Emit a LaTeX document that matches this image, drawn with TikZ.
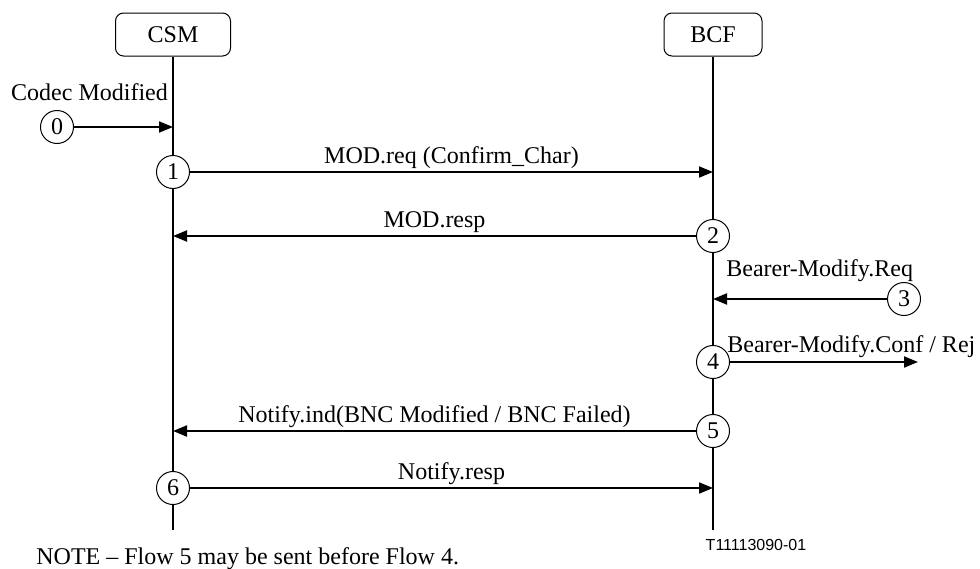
\documentclass[tikz,border=0pt]{standalone}
\usepackage{fontspec}
\setmainfont{Liberation Serif}
\newfontfamily\figfont{Liberation Sans}
\usetikzlibrary{arrows.meta}
\tikzset{
    entity/.style={draw,line width=0.5pt,rounded corners=4pt,minimum width=#1,minimum height=21.5pt,inner sep=0pt},
    flownum/.style={draw,line width=0.5pt,circle,fill=white,minimum size=16.5pt,inner sep=0pt},
    msg/.style={->,line width=1pt},
    msglabel/.style={midway,anchor=base,inner sep=0pt,yshift=4.5pt},
}
\newcommand\Flow[3]{% name, position, number
    \node[flownum] (#1) at (#2) {#3};
}

\begin{document}
\begin{tikzpicture}[x=0.5pt,y=-0.5pt,>={Triangle[length=7pt,width=5.5pt]},font=\fontsize{12}{14}\selectfont]
    \useasboundingbox (0,0) rectangle (980,568);
    % entities and lifelines
    \node[entity=57.5pt] (csm) at (173,34.5) {CSM};
    \node[entity=49pt] (bcf) at (713,34.5) {BCF};
    \coordinate (csmEnd) at (173,530);
    \coordinate (bcfEnd) at (713,530);
    \draw[line width=0.9pt] (csm) -- (csmEnd);
    \draw[line width=0.9pt] (bcf) -- (bcfEnd);
    % flows
    \Flow{f0}{57,127}{0}
    \node[anchor=base] at (89.5,100) {Codec Modified};
    \draw[msg] (f0) -- (f0 -| csm);
    \Flow{f1}{173,172}{1}
    \draw[msg] (f1) -- (f1 -| bcf) node[msglabel] {MOD.req (Confirm\_Char)};
    \Flow{f2}{713,236}{2}
    \draw[msg] (f2) -- (f2 -| csm) node[msglabel] {MOD.resp};
    \Flow{f3}{904,299}{3}
    \node[anchor=base west,inner sep=0pt] at (726,276) {Bearer-Modify.Req};
    \draw[msg] (f3) -- (f3 -| bcf);
    \Flow{f4}{713,362}{4}
    \coordinate (confEnd) at (918,362);
    \node[anchor=base west,inner sep=0pt] at (727,352) {Bearer-Modify.Conf / Rej};
    \draw[msg] (f4) -- (confEnd);
    \Flow{f5}{713,431}{5}
    \draw[msg] (f5) -- (f5 -| csm) node[msglabel] {Notify.ind(BNC Modified / BNC Failed)};
    \Flow{f6}{173,488}{6}
    \draw[msg] (f6) -- (f6 -| bcf) node[msglabel] {Notify.resp};
    % note and figure code
    \node[anchor=base west,inner sep=0pt] (note) at (36,564) {NOTE -- Flow 5 may be sent before Flow 4.};
    \node[anchor=base,inner sep=0pt,font=\figfont\fontsize{8}{9}\selectfont] (figcode) at (756,550) {T11113090-01};
\end{tikzpicture}
\end{document}
